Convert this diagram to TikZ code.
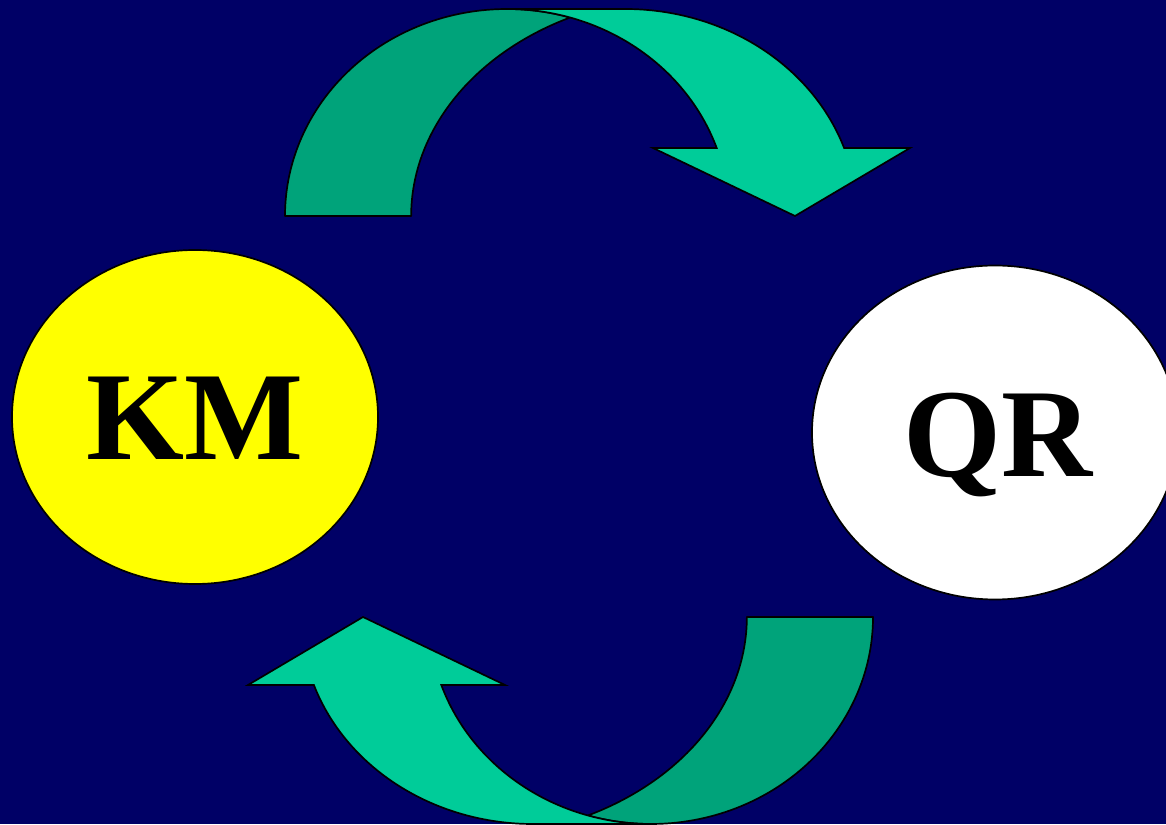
\documentclass[tikz,border=0pt]{standalone}
\usepackage{fontspec}
\setmainfont{Liberation Serif}
\usetikzlibrary{shapes.geometric}
\definecolor{navybg}{RGB}{0,0,102}
\definecolor{arrowlight}{RGB}{0,204,153}
\definecolor{arrowdark}{RGB}{0,163,122}
\definecolor{kmyellow}{RGB}{255,255,0}
\definecolor{qrwhite}{RGB}{255,255,255}
\tikzset{
  darkpart/.style={fill=arrowdark, draw=black, line width=1.7pt, line join=round},
  lightpart/.style={fill=arrowlight, draw=black, line width=1.7pt, line join=miter},
  bubble/.style={ellipse, draw=black, line width=1.7pt, inner sep=0pt,
    minimum width=366pt, minimum height=334pt},
  bigtext/.style={inner sep=0pt, anchor=base, font=\bfseries\fontsize{126}{126}\selectfont, text=black}
}
\newcommand\bentarrowshape{%
  \path[darkpart] (285,608) arc[start angle=180, end angle=73.5, x radius=222, y radius=207]
    arc[start angle=115.5, end angle=180, x radius=279, y radius=220] -- cycle;
  \path[lightpart] (507,815) -- (625,815)
    arc[start angle=90, end angle=19.18, x radius=232, y radius=207]
    -- (910,676) -- (795,608) -- (653,676) -- (716.7,676)
    arc[start angle=19.18, end angle=90, x radius=222, y radius=207] -- cycle;
}
\begin{document}
\begin{tikzpicture}[x=1pt,y=1pt]
  \useasboundingbox (0,0) rectangle (1166,824);
  \clip (0,0) rectangle (1166,824);
  \fill[navybg] (0,0) rectangle (1166,824);
  % top arrow
  \begin{scope}
    \bentarrowshape
  \end{scope}
  % bottom arrow (rotated copy)
  \begin{scope}[rotate around={180:(579,407.5)}]
    \bentarrowshape
  \end{scope}
  % ellipses
  \node[bubble, fill=kmyellow] (km) at (195,407) {};
  \node[bubble, fill=qrwhite] (qr) at (995,391.5) {};
  \node[bigtext] (kmtext) at (195,364) {KM};
  \node[bigtext] (qrtext) at (998,347) {QR};
\end{tikzpicture}
\end{document}
